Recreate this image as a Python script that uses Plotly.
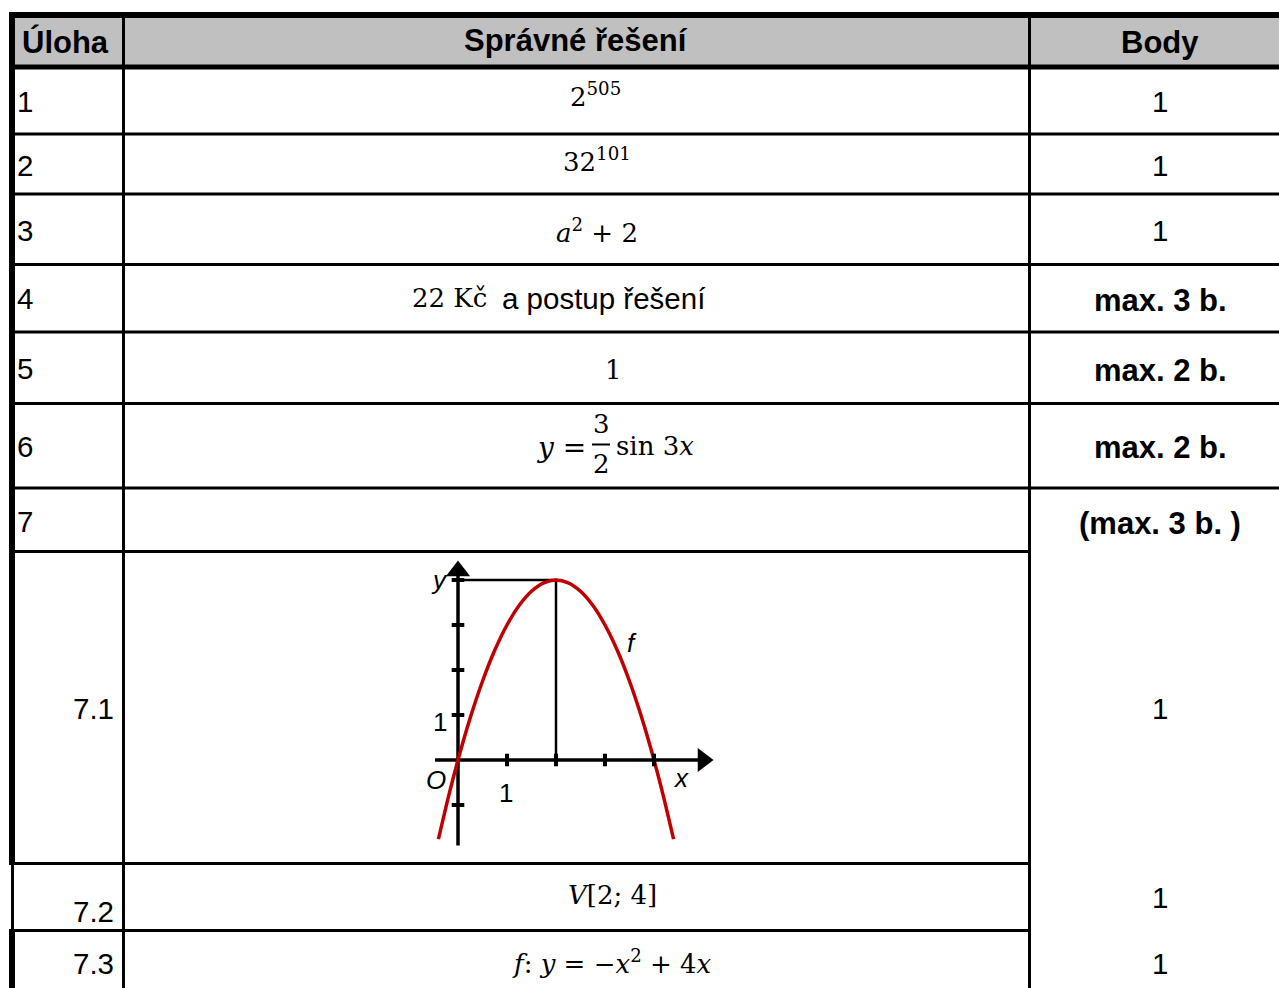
import plotly.graph_objects as go

W, H = 1279, 988

# ---------------- table content ----------------
header = ["Úloha", "Správné řešení", "Body"]
task_ids = ["1", "2", "3", "4", "5", "6", "7", "7.1", "7.2", "7.3"]
points = ["1", "1", "1", "max. 3 b.", "max. 2 b.", "max. 2 b.", "(max. 3 b. )", "1", "1", "1"]
points_bold = [False, False, False, True, True, True, True, False, False, False]
answers = [
    "2<sup>505</sup>",
    "32<sup>101</sup>",
    "<i>a</i><sup>2</sup> + 2",
    None,  # row 4 mixed text
    "1",
    None,  # row 6 fraction
    None,  # row 7 empty
    None,  # row 7.1 graph
    "<i>V</i>[2; 4]",
    "<i>f</i>: <i>y</i> = −<i>x</i><sup>2</sup> + 4<i>x</i>",
]

# ---------------- graph content (f: y = -x^2 + 4x) ----------------
curve_x = [-0.4, -0.2, 0, 0.25, 0.5, 0.75, 1, 1.25, 1.5, 1.75, 2,
           2.25, 2.5, 2.75, 3, 3.25, 3.5, 3.75, 4, 4.2, 4.4]
curve_y = [-1.76, -0.84, 0, 0.9375, 1.75, 2.4375, 3, 3.4375, 3.75, 3.9375, 4,
           3.9375, 3.75, 3.4375, 3, 2.4375, 1.75, 0.9375, 0, -0.84, -1.76]
vertex_x, vertex_y = 2, 4
x_ticks = [1, 2, 3, 4]
y_ticks = [-1, 1, 2, 3, 4]

# ---------------- layout geometry (pixels) ----------------
row_edges = [15, 67, 134, 194, 264.5, 332, 403.5, 488, 551.5, 863.5, 930.5, 988]
col_x = [12, 123.5, 1029.5, 1279]
label_y = [101, 165, 230, 298, 368, 446, 521, 708, 911, 963]
answer_y = [95, 160, 231, 298, 370, 446, 520, 708, 895, 962]
answer_x = [595, 597, 597, 0, 613, 0, 600, 0, 612, 612]
points_y = [101, 165, 230, 300, 370, 447, 523, 708, 897, 963]

SANS = "Liberation Sans, Arial, sans-serif"
SERIF = "DejaVu Serif, serif"
BOLD_SIZE = 31
NORM_SIZE = 29.5
MATH_SIZE = 26

fig = go.Figure()
shapes = []
ann = []

def hline(y, x0, x1, w):
    shapes.append(dict(type="line", xref="x", yref="y", x0=x0, x1=x1, y0=y, y1=y,
                       line=dict(color="black", width=w)))

def vline(x, y0, y1, w):
    shapes.append(dict(type="line", xref="x", yref="y", x0=x, x1=x, y0=y0, y1=y1,
                       line=dict(color="black", width=w)))

# header fill
shapes.append(dict(type="rect", xref="x", yref="y", x0=15, x1=W, y0=18, y1=65,
                   fillcolor="#c0c0c0", line=dict(width=0), layer="below"))
# horizontal lines
hline(row_edges[0], 9, W, 6)
hline(row_edges[1], 9, W, 5)
for y in row_edges[2:8]:
    hline(y, 9, W, 3)
for y in row_edges[8:11]:
    hline(y, 9, col_x[2], 3)
# vertical lines
vline(col_x[0], 12, row_edges[9], 6)
vline(12.5, row_edges[9], row_edges[10], 3)
vline(col_x[0], row_edges[10], H, 6)
vline(col_x[1], 12, H, 3)
vline(col_x[2], 12, H, 3)

def text(x, y, s, size, family=SANS, xanchor="center", bold=False, color="black"):
    if bold:
        s = "<b>" + s + "</b>"
    ann.append(dict(x=x, y=y, xref="x", yref="y", text=s, showarrow=False,
                    xanchor=xanchor, yanchor="middle",
                    font=dict(family=family, size=size, color=color)))

# header texts
text(20, 42, header[0], BOLD_SIZE, xanchor="left", bold=True)
text(576, 40, header[1], BOLD_SIZE, bold=True)
text(1160, 42, header[2], BOLD_SIZE, bold=True)

# task labels
for i, t in enumerate(task_ids):
    if "." in t:
        text(116, label_y[i], t, NORM_SIZE, xanchor="right")
    else:
        text(15, label_y[i], t, NORM_SIZE, xanchor="left")

# points
for i, p in enumerate(points):
    text(1160, points_y[i], p, BOLD_SIZE if points_bold[i] else NORM_SIZE, bold=points_bold[i])

# answers
for i, a in enumerate(answers):
    if a:
        text(answer_x[i], answer_y[i], a, MATH_SIZE, family=SERIF)
# row 4
text(449, 298, "22 Kč", MATH_SIZE, family=SERIF)
text(500, 298, "a postup řešení", NORM_SIZE, xanchor="left")
# row 6 fraction
text(588, 447, "<i>y</i> =", MATH_SIZE + 2, family=SERIF, xanchor="right")
text(601, 424, "3", MATH_SIZE, family=SERIF)
text(601, 464, "2", MATH_SIZE, family=SERIF)
shapes.append(dict(type="line", xref="x", yref="y", x0=592, x1=610, y0=444.5, y1=444.5,
                   line=dict(color="black", width=2)))
text(614, 446, "sin 3<i>x</i>", MATH_SIZE, family=SERIF, xanchor="left")

# ---------------- graph ----------------
def gtrace(**kw):
    fig.add_trace(go.Scatter(xaxis="x2", yaxis="y2", hoverinfo="skip", showlegend=False, **kw))

# axes
gtrace(x=[-0.47, 4.9], y=[0, 0], mode="lines", line=dict(color="black", width=3.5))
gtrace(x=[0, 0], y=[-1.9, 4.15], mode="lines", line=dict(color="black", width=3.5))
gtrace(x=[5.0], y=[0], mode="markers",
       marker=dict(symbol="triangle-right", size=21, color="black", line=dict(width=0)))
gtrace(x=[0], y=[4.2], mode="markers",
       marker=dict(symbol="triangle-up", size=21, color="black", line=dict(width=0)))
# vertex guides
gtrace(x=[0, vertex_x, vertex_x], y=[vertex_y, vertex_y, 0], mode="lines",
       line=dict(color="black", width=2.5))
# curve
gtrace(x=curve_x, y=curve_y, mode="lines",
       line=dict(color="#c00000", width=3.5, shape="spline", smoothing=0.8))
# ticks
gtrace(x=x_ticks, y=[0] * len(x_ticks), mode="markers",
       marker=dict(symbol="line-ns", size=9, line=dict(width=4, color="black")))
gtrace(x=[0] * len(y_ticks), y=y_ticks, mode="markers",
       marker=dict(symbol="line-ew", size=9, line=dict(width=4, color="black")))

def gtext(x, y, s, size=26):
    ann.append(dict(x=x, y=y, xref="x2", yref="y2", text=s, showarrow=False,
                    xanchor="center", yanchor="middle",
                    font=dict(family=SANS, size=size, color="black")))

gtext(-0.37, 4.0, "<i>y</i>")
gtext(3.55, 2.6, "<i>f</i>")
gtext(-0.37, 0.84, "1")
gtext(-0.45, -0.44, "<i>O</i>")
gtext(0.98, -0.73, "1")
gtext(4.55, -0.4, "<i>x</i>")

fig.update_layout(
    width=W, height=H, margin=dict(l=0, r=0, t=0, b=0),
    paper_bgcolor="white", plot_bgcolor="white",
    xaxis=dict(range=[0, W], domain=[0, 1], visible=False, fixedrange=True),
    yaxis=dict(range=[H, 0], domain=[0, 1], visible=False, fixedrange=True),
    xaxis2=dict(range=[(420 - 458) / 49, (740 - 458) / 49], domain=[420 / W, 740 / W],
                anchor="y2", visible=False, fixedrange=True),
    yaxis2=dict(range=[(760 - 850) / 45, (760 - 555) / 45], domain=[1 - 850 / H, 1 - 555 / H],
                anchor="x2", visible=False, fixedrange=True),
    shapes=shapes, annotations=ann, showlegend=False,
)

fig.write_html("out.html", config={"displayModeBar": False, "staticPlot": True},
               post_script="document.body.style.margin='0';document.body.style.padding='0';document.body.style.overflow='hidden';")
